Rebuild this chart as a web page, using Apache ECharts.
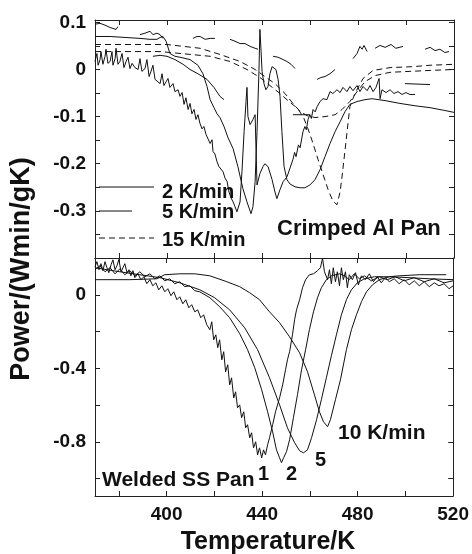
<!DOCTYPE html>
<html>
<head>
<meta charset="utf-8">
<script src="https://cdn.jsdelivr.net/npm/echarts@6/dist/echarts.min.js"></script>
<style>
  html, body { margin: 0; padding: 0; background: #fff; }
  #chart { width: 472px; height: 554px; }
</style>
</head>
<body>
<div id="chart"></div>
<script>
// axis ticks / labels
const xTicks = [380, 400, 420, 440, 460, 480, 500];
const xLabels = [400, 440, 480, 520];
const topYTicks = [0.1, 0.05, 0, -0.05, -0.1, -0.15, -0.2, -0.25, -0.3, -0.35];
const topYLabels = [0.1, 0, -0.1, -0.2, -0.3];
const bottomYTicks = [0, -0.2, -0.4, -0.6, -0.8, -1.0];
const bottomYLabels = [0, -0.4, -0.8];

// crimped Al pan, [T (K), power]
const alRate2 = [
  [370.0,0.017],[370.8,0.034],[371.3,0.009],[372.1,0.021],[372.5,0.038],[373.3,0.011],[374.2,0.028],[374.6,0.043],
  [375.4,0.013],[376.3,0.017],[377.1,0.038],[377.5,0.009],[378.4,0.023],[378.8,0.045],[379.6,0.011],[380.4,0.017],
  [381.3,0.034],[382.1,0.004],[383.0,0.017],[383.8,0.026],[384.6,0.002],[385.5,0.013],[386.7,0.004],[388.0,0],
  [388.8,0.023],[389.6,-0.004],[390.9,0.002],[391.7,0.021],[392.6,-0.015],[393.4,-0.004],[394.2,0.009],[395.1,-0.021],
  [395.9,-0.017],[397.2,-0.030],[398.0,-0.009],[398.8,-0.034],[399.7,-0.026],[400.5,-0.019],[401.3,-0.038],[402.6,-0.030],
  [403.4,-0.047],[404.7,-0.043],[405.5,-0.057],[406.4,-0.049],[407.2,-0.074],[408.0,-0.060],[408.9,-0.085],[409.7,-0.072],
  [410.5,-0.094],[411.4,-0.085],[412.2,-0.106],[413.0,-0.096],[413.9,-0.115],[414.7,-0.126],[415.5,-0.121],[416.4,-0.138],
  [417.2,-0.134],[418.1,-0.157],[418.9,-0.149],[419.3,-0.174],[420.1,-0.179],[421.0,-0.196],[421.8,-0.206],[422.6,-0.206],
  [423.5,-0.217],[424.3,-0.230],[425.2,-0.238],[426.0,-0.260],[426.8,-0.272],[427.7,-0.281],[428.5,-0.291],[429.3,-0.302],
  [429.7,-0.306],[430.6,-0.281],[431.4,-0.217],[432.3,-0.132],[433.1,-0.068],[433.5,-0.038],[433.9,-0.100],[434.8,-0.117],
  [436.0,-0.106],[436.9,-0.096],[437.3,-0.174],[437.7,-0.245],[438.9,-0.221],[440.2,-0.206],[441.0,-0.200],[442.3,-0.206],
  [444.0,-0.234],[445.2,-0.260],[446.0,-0.274],[447.3,-0.255],[448.6,-0.238],[450.2,-0.228],[451.5,-0.209],[452.7,-0.191],
  [453.4,-0.176],[454.0,-0.185],[455.0,-0.160],[455.7,-0.166],[456.9,-0.132],[457.7,-0.121],[458.3,-0.128],[459.0,-0.106],
  [459.8,-0.096],[460.4,-0.104],[461.1,-0.085],[462.0,-0.090],[462.8,-0.079],[464.0,-0.068],[465.3,-0.062],[466.9,-0.064],
  [468.2,-0.047],[469.4,-0.051],[471.1,-0.043],[472.4,-0.049],[473.6,-0.038],[475.3,-0.047],[476.5,-0.036],[477.8,-0.045],
  [479.5,-0.034],[480.7,-0.047],[482.0,-0.036],[483.7,-0.045],[484.9,-0.034],[486.2,-0.047],[487.4,-0.038],[488.7,-0.019],
  [489.1,-0.062],[489.9,-0.043],[491.6,-0.049],[493.3,-0.043],[494.9,-0.051],[496.6,-0.047],[498.3,-0.053],[499.9,-0.049],
  [501.6,-0.053],[503.7,-0.053]
];
const alRate5 = [
  [370.0,0.070],[376.3,0.070],[382.5,0.068],[388.8,0.066],[393.0,0.064],[395.9,0.064],[397.2,0.068],[398.4,0.070],
  [399.7,0.060],[401.3,0.034],[403.4,0.028],[405.5,0.026],[409.7,0.021],[413.0,0.009],[415.1,-0.009],[416.8,-0.036],
  [418.1,-0.064],[419.7,-0.081],[421.0,-0.094],[422.2,-0.102],[423.9,-0.121],[425.6,-0.145],[427.7,-0.168],[429.7,-0.206],
  [431.8,-0.253],[433.5,-0.281],[435.2,-0.306],[436.0,-0.291],[436.9,-0.238],[437.7,-0.132],[438.5,-0.004],[438.9,0.085],
  [439.4,0.038],[439.8,-0.004],[440.6,-0.030],[441.4,-0.043],[442.3,-0.036],[443.1,-0.009],[444.0,0.006],[444.8,0.009],
  [445.6,0],[446.5,-0.021],[447.3,-0.057],[448.1,-0.132],[449.0,-0.206],[450.2,-0.234],[451.5,-0.243],[453.6,-0.249],
  [455.7,-0.251],[457.7,-0.251],[459.8,-0.245],[461.9,-0.234],[464.0,-0.213],[466.1,-0.185],[468.2,-0.157],[470.3,-0.132],
  [472.4,-0.111],[474.5,-0.089],[476.5,-0.074],[479.5,-0.068],[482.8,-0.064],[485.7,-0.062],[491.2,-0.066],[497.4,-0.072],
  [503.7,-0.077],[510.0,-0.081],[516.2,-0.087],[520.0,-0.091]
];
const alRate15 = [
  [370.0,0.038],[384.6,0.038],[397.2,0.038],[409.7,0.032],[418.1,0.028],[426.4,0.017],[433.5,0],[438.9,-0.017],
  [443.1,-0.034],[447.3,-0.051],[451.5,-0.070],[454.8,-0.083],[457.3,-0.104],[459.0,-0.126],[461.1,-0.157],[463.2,-0.191],
  [465.3,-0.223],[467.4,-0.255],[469.4,-0.279],[471.1,-0.287],[472.4,-0.260],[473.2,-0.228],[474.5,-0.170],[475.7,-0.115],
  [476.5,-0.079],[478.6,-0.051],[482.0,-0.019],[486.2,-0.002],[493.3,0.004],[502.9,0.006],[510.0,0.009],[520.0,0.011]
];
const alDashed2 = [
  [370.0,0.053],[384.6,0.053],[400.1,0.053],[413.9,0.045],[422.2,0.032],[430.6,0.017],[436.9,0],[441.0,-0.015],
  [445.2,-0.030],[449.4,-0.051],[452.7,-0.072],[455.7,-0.089],[458.6,-0.098],[461.9,-0.102],[466.1,-0.100],[470.3,-0.096],
  [473.2,-0.085],[476.5,-0.068],[479.5,-0.047],[482.8,-0.026],[487.0,-0.013],[493.3,-0.006],[501.6,-0.004],[510.0,-0.002],
  [520.0,0]
];
const alFragments = [
  [[370.0,0.096],[372.1,0.098],[374.2,0.094],[376.3,0.089],[377.5,0.087],[378.8,0.085],[379.6,0.091]],
  [[388.8,0.074],[390.9,0.077],[393.0,0.081],[394.2,0.074],[395.9,0.077],[397.2,0.074],[398.4,0.066]],
  [[410.9,0.066],[412.6,0.070],[413.9,0.070],[416.0,0.064],[418.1,0.066],[420.1,0.066]],
  [[426.4,0.064],[428.5,0.060],[430.6,0.055],[432.7,0.055],[434.8,0.049],[436.9,0.045],[438.1,0.043]],
  [[444.4,0.028],[446.5,0.026],[448.6,0.021],[450.2,0.017],[451.9,0.011],[453.6,0.002]],
  [[462.8,-0.021],[464.4,-0.017],[466.1,-0.015],[468.2,-0.009],[470.3,0]],
  [[477.8,0.023],[479.5,0.034],[480.7,0.049],[481.6,0.043],[482.4,0.051],[483.7,0.038]],
  [[487.0,0.045],[489.1,0.051],[491.2,0.047],[493.7,0.053],[495.7,0.045],[498.7,0.049]],
  [[507.9,0.043],[510.0,0.047],[512.1,0.040],[514.1,0.043],[516.2,0.036],[517.9,0.038]],
  [[499.5,-0.030],[510.0,-0.032]],
  [[452.7,-0.096],[459.8,-0.096]],
  [[394.2,0.028],[397.2,0.030],[400.1,0.028],[403.4,0.021],[406.8,0.011],[409.7,0],[413.0,-0.009],[416.8,-0.021],
   [419.7,-0.038],[422.2,-0.057],[423.9,-0.064]]
];

// welded SS pan, [T (K), power]
const ssRate1 = [
  [370.0,0.152],[370.8,0.180],[371.7,0.136],[372.5,0.169],[373.3,0.131],[374.2,0.180],[375.0,0.147],[375.8,0.120],
  [376.7,0.163],[377.5,0.190],[378.4,0.136],[379.2,0.158],[380.0,0.192],[380.9,0.125],[381.7,0.147],[382.5,0.169],
  [383.4,0.120],[384.2,0.136],[385.0,0.103],[385.9,0.131],[386.7,0.093],[388.0,0.114],[389.2,0.082],[390.5,0.098],
  [391.7,0.060],[393.0,0.082],[394.2,0.049],[395.5,0.065],[396.7,0.027],[398.0,0.049],[399.2,0.016],[400.5,0.033],
  [401.8,-0.005],[403.0,0.016],[404.3,-0.027],[405.5,-0.011],[406.8,-0.049],[408.0,-0.027],[409.3,-0.071],[410.5,-0.054],
  [411.8,-0.093],[413.0,-0.082],[414.3,-0.125],[415.5,-0.109],[416.8,-0.163],[418.1,-0.190],[418.9,-0.147],[419.7,-0.245],
  [420.6,-0.218],[421.4,-0.288],[422.2,-0.245],[423.1,-0.354],[423.9,-0.310],[424.7,-0.419],[425.6,-0.381],[426.4,-0.490],
  [427.2,-0.452],[428.1,-0.561],[428.9,-0.528],[429.7,-0.615],[430.6,-0.599],[431.4,-0.669],[432.3,-0.637],[433.1,-0.724],
  [433.9,-0.707],[434.8,-0.778],[435.6,-0.751],[436.4,-0.833],[437.3,-0.800],[438.1,-0.871],[438.9,-0.833],[439.8,-0.887],
  [440.6,-0.844],[441.4,-0.871],[442.3,-0.816],[443.1,-0.778],[444.4,-0.707],[445.6,-0.637],[447.3,-0.561],[448.6,-0.490],
  [449.8,-0.408],[450.6,-0.354],[451.5,-0.310],[452.7,-0.218],[453.6,-0.136],[454.4,-0.082],[455.7,-0.027],[456.9,0.038],
  [458.2,0.082],[459.8,0.109],[461.5,0.114],[463.2,0.131],[464.4,0.147],[465.3,0.198],[466.1,0.125],[467.4,0.082],
  [468.2,0.136],[469.0,0.060],[469.8,0.147],[470.7,0.071],[471.5,0.125],[472.4,0.049],[473.2,0.147],[474.0,0.082],
  [474.9,0.125],[475.7,0.038],[476.5,0.109],[477.8,0.082],[479.1,0.120],[480.3,0.054],[481.6,0.103],[483.2,0.082],
  [484.9,0.114],[486.6,0.071],[488.2,0.098],[489.9,0.065],[491.6,0.093],[493.3,0.071],[495.3,0.087],[497.4,0.060],
  [499.5,0.082],[501.6,0.054],[503.7,0.076],[505.8,0.049],[507.9,0.071],[510.0,0.044],[512.1,0.065],[514.1,0.049],
  [516.2,0.060],[518.3,0.033],[520.0,0.049]
];
const ssRate2 = [
  [370.0,0.136],[372.1,0.158],[374.2,0.125],[376.3,0.147],[378.4,0.114],[380.4,0.141],[382.5,0.109],[384.6,0.131],
  [386.7,0.103],[388.8,0.125],[390.9,0.098],[393.0,0.114],[395.1,0.087],[397.2,0.103],[399.2,0.076],[401.3,0.087],
  [403.4,0.060],[405.5,0.071],[407.6,0.044],[409.7,0.049],[411.8,0.022],[413.9,0.016],[418.1,-0.016],[422.2,-0.065],
  [426.4,-0.125],[430.6,-0.212],[433.9,-0.299],[436.9,-0.397],[439.8,-0.517],[442.3,-0.637],[444.4,-0.746],[446.0,-0.844],
  [447.3,-0.887],[448.1,-0.914],[449.0,-0.887],[450.2,-0.854],[451.5,-0.789],[453.1,-0.669],[454.8,-0.544],[456.5,-0.408],
  [458.2,-0.299],[459.8,-0.190],[461.5,-0.093],[463.2,-0.016],[464.8,0.038],[466.9,0.082],[469.0,0.103],[472.4,0.114],
  [474.5,0.103],[476.5,0.082],[478.6,0.114],[480.7,0.087],[482.8,0.103],[485.7,0.076],[489.1,0.098],[492.4,0.082],
  [495.7,0.098],[499.5,0.076],[503.7,0.093],[507.9,0.071],[512.1,0.087],[516.2,0.065],[520.0,0.076]
];
const ssRate5 = [
  [370.0,0.147],[380.4,0.125],[388.8,0.109],[397.2,0.093],[405.5,0.065],[413.9,0.027],[420.1,-0.016],[426.4,-0.082],
  [432.7,-0.180],[438.1,-0.299],[443.1,-0.452],[447.3,-0.599],[450.6,-0.724],[453.6,-0.805],[455.7,-0.849],[457.3,-0.860],
  [459.0,-0.844],[460.7,-0.778],[462.8,-0.680],[464.8,-0.571],[466.9,-0.452],[469.0,-0.332],[471.1,-0.218],[473.2,-0.109],
  [475.3,-0.027],[477.4,0.027],[479.9,0.065],[482.8,0.087],[487.0,0.098],[493.3,0.098],[501.6,0.093],[510.0,0.087],
  [520.0,0.082]
];
const ssRate10 = [
  [370.0,0.082],[384.6,0.082],[395.9,0.087],[399.2,0.109],[405.5,0.114],[411.8,0.114],[418.1,0.103],[425.2,0.071],
  [430.6,0.044],[434.8,0.011],[438.9,-0.027],[443.1,-0.093],[447.3,-0.152],[451.5,-0.229],[455.7,-0.316],[459.0,-0.419],
  [461.9,-0.544],[464.0,-0.637],[465.7,-0.691],[467.4,-0.718],[468.6,-0.680],[470.7,-0.571],[472.8,-0.463],[475.3,-0.299],
  [477.4,-0.190],[479.5,-0.109],[481.6,-0.038],[483.7,0.016],[486.2,0.054],[489.1,0.082],[493.3,0.098],[497.4,0.103],
  [505.8,0.109],[517.1,0.109]
];

const FONT = "'Liberation Sans', Arial, sans-serif";
const INK = '#111';

function fmt(v) {
  if (Math.abs(v) < 1e-9) return '0';
  return String(Math.round(v * 10) / 10);
}

function lineSeries(data, xi, yi, dashed) {
  return {
    type: 'line', xAxisIndex: xi, yAxisIndex: yi, data: data,
    showSymbol: false, symbol: 'none', silent: true, animation: false,
    lineStyle: { color: INK, width: 1, type: dashed ? [6, 4] : 'solid' }
  };
}

function xAxisDef(grid, pos, labels) {
  return {
    type: 'value', gridIndex: grid, position: pos, min: 370, max: 520,
    axisLine: { show: true, onZero: false, lineStyle: { color: '#222', width: 1 } },
    axisTick: { show: true, inside: true, length: 5, customValues: xTicks, lineStyle: { color: '#222' } },
    axisLabel: labels ? { show: true, customValues: xLabels, margin: 9, color: INK,
      fontFamily: FONT, fontWeight: 'bold', fontSize: 19 } : { show: false },
    splitLine: { show: false }
  };
}

function yAxisDef(grid, pos, min, max, ticks, labels) {
  return {
    type: 'value', gridIndex: grid, position: pos, min: min, max: max,
    axisLine: { show: true, onZero: false, lineStyle: { color: '#222', width: 1 } },
    axisTick: { show: true, inside: true, length: 5, customValues: ticks, lineStyle: { color: '#222' } },
    axisLabel: labels ? { show: true, customValues: labels, margin: 9, color: INK, formatter: fmt,
      fontFamily: FONT, fontWeight: 'bold', fontSize: 19 } : { show: false },
    splitLine: { show: false }
  };
}

const series = [
  lineSeries(alRate2, 0, 0),
  lineSeries(alRate5, 0, 0),
  lineSeries(alRate15, 0, 0, true),
  lineSeries(alDashed2, 0, 0, true),
  ...alFragments.map(seg => lineSeries(seg, 0, 0)),
  lineSeries(ssRate1, 2, 2),
  lineSeries(ssRate2, 2, 2),
  lineSeries(ssRate5, 2, 2),
  lineSeries(ssRate10, 2, 2)
];

function label(text, x, y, size) {
  return { type: 'text', x: x, y: y, silent: true,
    style: { text: text, fill: INK, font: 'bold ' + (size || 20) + 'px ' + FONT,
      textAlign: 'left', textVerticalAlign: 'middle' } };
}

const chart = echarts.init(document.getElementById('chart'), null, { renderer: 'canvas' });
chart.setOption({
  backgroundColor: '#fff',
  animation: false,
  grid: [
    { left: 95, top: 20, width: 359, height: 238 },
    { left: 95, top: 258, width: 359, height: 238 }
  ],
  xAxis: [
    xAxisDef(0, 'bottom', false),
    xAxisDef(0, 'top', false),
    xAxisDef(1, 'bottom', true),
    xAxisDef(1, 'top', false)
  ],
  yAxis: [
    yAxisDef(0, 'left', -0.4, 0.105, topYTicks, topYLabels),
    yAxisDef(0, 'right', -0.4, 0.105, topYTicks, null),
    yAxisDef(1, 'left', -1.095, 0.2, bottomYTicks, bottomYLabels),
    yAxisDef(1, 'right', -1.095, 0.2, bottomYTicks, null)
  ],
  series: series,
  graphic: [
    { type: 'line', silent: true, shape: { x1: 99, y1: 187, x2: 154, y2: 187 }, style: { stroke: INK, lineWidth: 1 } },
    { type: 'line', silent: true, shape: { x1: 99, y1: 211, x2: 132, y2: 211 }, style: { stroke: INK, lineWidth: 1 } },
    { type: 'line', silent: true, shape: { x1: 99, y1: 238, x2: 154, y2: 238 }, style: { stroke: INK, lineWidth: 1, lineDash: [6, 4] } },
    label('2 K/min', 162, 192),
    label('5 K/min', 162, 212),
    label('15 K/min', 162, 240),
    label('Crimped Al Pan', 277, 229, 22),
    label('Welded SS Pan', 102, 480, 21),
    label('1', 258, 474, 20),
    label('2', 286, 474, 20),
    label('5', 315, 460, 20),
    label('10 K/min', 338, 433, 21),
    { type: 'text', x: 268, y: 542, silent: true,
      style: { text: 'Temperature/K', fill: INK, font: 'bold 25px ' + FONT, textAlign: 'center', textVerticalAlign: 'middle' } },
    { type: 'text', x: 22, y: 269, rotation: Math.PI / 2, silent: true,
      style: { text: 'Power/(Wmin/gK)', fill: INK, font: 'bold 27px ' + FONT, textAlign: 'center', textVerticalAlign: 'middle' } }
  ]
});
</script>
</body>
</html>
